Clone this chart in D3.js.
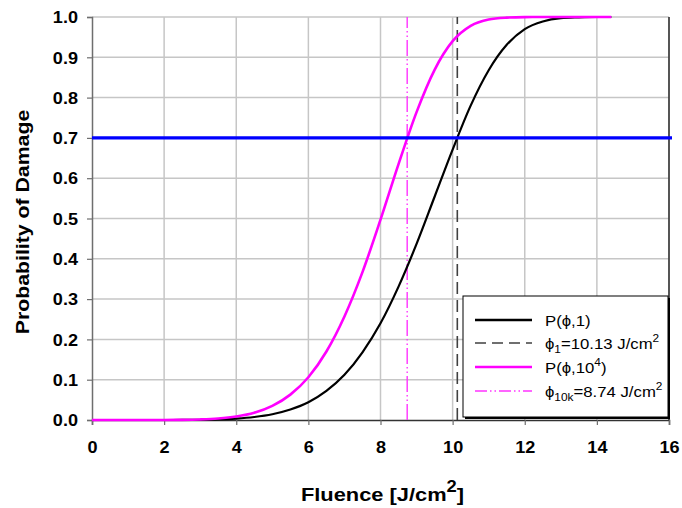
<!DOCTYPE html>
<html><head><meta charset="utf-8">
<script src="https://cdn.jsdelivr.net/npm/d3@7"></script>
<style>body{margin:0;background:#fff}svg{display:block}</style>
</head><body>
<script>
const fluence = [0,0.5,1,1.5,2,2.5,3,3.5,4,4.5,5,5.5,6,6.5,7,7.5,8,8.5,9,9.5,10,10.5,11,11.5,12,12.5,13,13.5,14,14.4];
const pSingle = [0,0,0,0,0,0.0001,0.0006,0.0015,0.0036,0.0075,0.0143,0.026,0.044,0.072,0.112,0.168,0.240,0.331,0.437,0.554,0.671,0.780,0.868,0.931,0.970,0.989,0.997,0.999,1.0,1.0];
const pMulti  = [0,0,0,0,0.0001,0.0004,0.0014,0.0037,0.0087,0.018,0.035,0.063,0.106,0.170,0.257,0.367,0.497,0.635,0.764,0.869,0.940,0.978,0.994,0.9985,0.9998,1.0,1.0,1.0,1.0,1.0];
const phi1 = 10.13, phi10k = 8.74, level = 0.7;
const xTicks = [0,2,4,6,8,10,12,14,16];
const yTicks = [0,0.1,0.2,0.3,0.4,0.5,0.6,0.7,0.8,0.9,1.0];
const legendItems = [
  {key:"single", label:"P(ϕ,1)"},
  {key:"phi1", label:"ϕ1=10.13 J/cm2"},
  {key:"multi", label:"P(ϕ,104)"},
  {key:"phi10k", label:"ϕ10k=8.74 J/cm2"}
];

const W=682,H=508, m={l:92,r:13,t:17,b:88};
const svg=d3.select("body").append("svg").attr("width",W).attr("height",H);
const x=d3.scaleLinear().domain([0,16]).range([m.l,W-m.r]);
const y=d3.scaleLinear().domain([0,1]).range([H-m.b,m.t]);
const font="Liberation Sans, Arial, sans-serif";
const SX=1.13;

// grid
svg.append("g").selectAll("line").data(xTicks.slice(1)).join("line")
  .attr("x1",d=>x(d)).attr("x2",d=>x(d)).attr("y1",y(0)).attr("y2",y(1))
  .attr("stroke","#c6c6c6").attr("stroke-width",1.5);
svg.append("g").selectAll("line").data(yTicks.slice(1)).join("line")
  .attr("x1",x(0)).attr("x2",x(16)).attr("y1",d=>y(d)).attr("y2",d=>y(d))
  .attr("stroke","#c6c6c6").attr("stroke-width",1.5);
svg.append("line").attr("x1",x(16)).attr("x2",x(16)).attr("y1",y(0)).attr("y2",y(1)).attr("stroke","#000").attr("stroke-width",1.2);

// axes
const xAxis=svg.append("g").attr("transform",`translate(0,${y(0)})`)
  .call(d3.axisBottom(x).tickValues(xTicks).tickSize(5).tickFormat(d3.format("d")));
const yAxis=svg.append("g").attr("transform",`translate(${x(0)},0)`)
  .call(d3.axisLeft(y).tickValues(yTicks).tickSize(5).tickFormat(d3.format(".1f")));
[xAxis,yAxis].forEach(a=>{
  a.select(".domain").attr("stroke","#6e6e6e").attr("stroke-width",1.5);
  a.selectAll(".tick line").attr("stroke","#6e6e6e").attr("stroke-width",1.2);
  a.selectAll("text").attr("font-family",font).attr("font-size",16).attr("font-weight","bold").attr("fill","#000");
});
xAxis.select(".domain").attr("stroke","#333");
xAxis.selectAll(".tick text").attr("dy",null).attr("y",33).attr("transform",`scale(${SX},1)`);
yAxis.selectAll(".tick text").attr("x",0).attr("dy","0.36em").attr("transform",`translate(-14,0) scale(${SX},1)`);

// vertical lines
svg.append("line").attr("x1",x(phi1)).attr("x2",x(phi1)).attr("y1",y(0)).attr("y2",y(1))
  .attr("stroke","#404040").attr("stroke-width",1.6).attr("stroke-dasharray","12,6");
svg.append("line").attr("x1",x(phi10k)).attr("x2",x(phi10k)).attr("y1",y(0)).attr("y2",y(1))
  .attr("stroke","#ff33ff").attr("stroke-width",1.4).attr("stroke-dasharray","16,3,1.5,3,1.5,3");

// curves
const line=d3.line().curve(d3.curveMonotoneX);
svg.append("path").attr("d",line(fluence.map((f,i)=>[x(f),y(pSingle[i])])))
  .attr("fill","none").attr("stroke","#000").attr("stroke-width",2.2);
svg.append("path").attr("d",line(fluence.map((f,i)=>[x(f),y(pMulti[i])])))
  .attr("fill","none").attr("stroke","#ff00ff").attr("stroke-width",2.6);

// threshold line
svg.append("line").attr("x1",x(0)).attr("x2",x(16)+3).attr("y1",y(level)).attr("y2",y(level))
  .attr("stroke","#0000ff").attr("stroke-width",3.2);

// legend
const lg=svg.append("g");
lg.append("rect").attr("x",465).attr("y",298).attr("width",205).attr("height",121).attr("fill","#000");
lg.append("rect").attr("x",463).attr("y",296).attr("width",205).attr("height",121).attr("fill","#fff").attr("stroke","#000").attr("stroke-width",1);
const rows=[320,343,367,391];
const styles={
  single:{stroke:"#000",w:2.4,dash:null},
  phi1:{stroke:"#404040",w:1.4,dash:"11,6"},
  multi:{stroke:"#ff00ff",w:2.6,dash:null},
  phi10k:{stroke:"#ff33ff",w:1.4,dash:"12,3,1.5,3,1.5,3"}
};
legendItems.forEach((it,i)=>{
  const s=styles[it.key];
  lg.append("line").attr("x1",475).attr("x2",532).attr("y1",rows[i]).attr("y2",rows[i])
    .attr("stroke",s.stroke).attr("stroke-width",s.w).attr("stroke-dasharray",s.dash);
  const t=lg.append("text").attr("x",0).attr("y",0)
    .attr("transform",`translate(545,${rows[i]+6}) scale(1.08,1)`)
    .attr("font-family",font).attr("font-size",15.5).attr("fill","#000");
  if(it.key==="single"){ t.text(it.label); }
  else if(it.key==="multi"){
    t.append("tspan").text("P(ϕ,10");
    t.append("tspan").attr("dy",-7).attr("font-size",11).text("4");
    t.append("tspan").attr("dy",7).text(")");
  } else {
    const sub = it.key==="phi1"?"1":"10k";
    const rest = it.key==="phi1"?"=10.13 J/cm":"=8.74 J/cm";
    t.append("tspan").text("ϕ");
    t.append("tspan").attr("dy",4).attr("font-size",11).text(sub);
    t.append("tspan").attr("dy",-4).text(rest);
    t.append("tspan").attr("dy",-7).attr("font-size",11).text("2");
  }
});

// axis titles
const xt=svg.append("text").attr("x",0).attr("y",0)
  .attr("transform",`translate(${(x(0)+x(16))/2+2},501) scale(1.15,1)`).attr("text-anchor","middle")
  .attr("font-family",font).attr("font-size",19).attr("font-weight","bold");
xt.append("tspan").text("Fluence [J/cm");
xt.append("tspan").attr("dy",-9).attr("font-size",16).text("2");
xt.append("tspan").attr("dy",9).text("]");
svg.append("text").attr("transform",`translate(29,222) rotate(-90) scale(1.15,1)`).attr("text-anchor","middle")
  .attr("font-family",font).attr("font-size",18.5).attr("font-weight","bold").text("Probability of Damage");
</script>
</body></html>
